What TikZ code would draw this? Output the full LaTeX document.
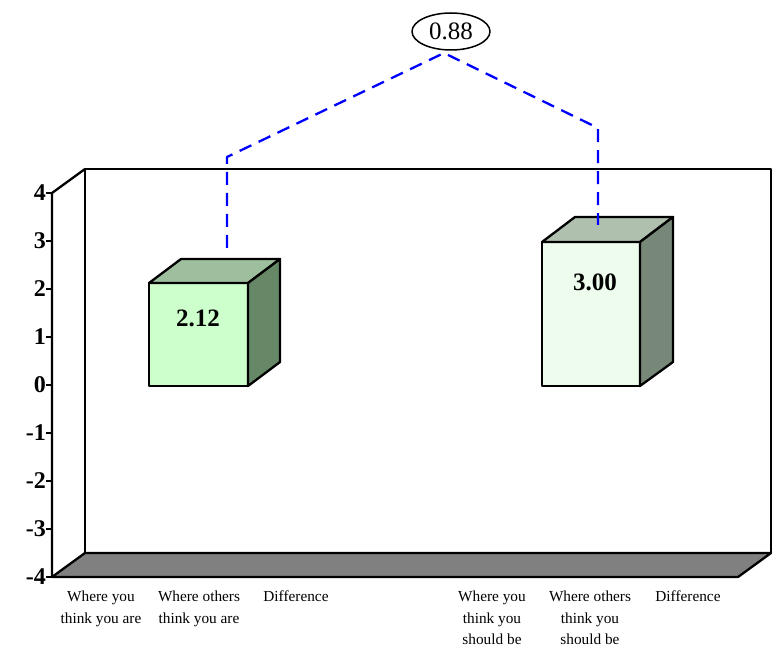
\documentclass[tikz,border=0pt]{standalone}
\usepackage{fontspec}
\setmainfont{Liberation Serif}
\usetikzlibrary{shapes.geometric}
\definecolor{floorgray}{HTML}{808080}
\definecolor{aface}{HTML}{CCFFCC}
\definecolor{atop}{HTML}{9DBF9D}
\definecolor{aside}{HTML}{668866}
\definecolor{bface}{HTML}{EEFCEE}
\definecolor{btop}{HTML}{AFC0AF}
\definecolor{bside}{HTML}{788878}
\begin{document}
\begin{tikzpicture}[x=1pt,y=-1pt,line join=round]
\tikzset{
  frame/.style={draw=black,line width=2.3pt},
  ticklab/.style={font=\fontsize{24}{24}\selectfont\bfseries,anchor=east,inner sep=0pt},
  barlab/.style={font=\fontsize{25}{25}\selectfont\bfseries,inner sep=0pt},
  catlab/.style={font=\fontsize{15.3}{21.5}\selectfont,align=center,anchor=north,inner sep=0pt},
  dashline/.style={draw=blue,line width=2.3pt,dash pattern=on 13pt off 8pt},
  diffbox/.style={ellipse,draw=black,line width=1.5pt,minimum width=78pt,minimum height=37pt,inner sep=0pt,font=\fontsize{25}{25}\selectfont}
}
\useasboundingbox (0,0) rectangle (776,652);
% floor
\draw[frame,fill=floorgray] (52,577) -- (738,577) -- (771,553) -- (85,553) -- cycle;
% back wall
\draw[frame] (85,553) -- (85,169) -- (771,169) -- (771,553);
% left wall / axis
\draw[frame] (52,577) -- (52,193) -- (85,169);
\foreach \v in {-4,...,4}{
  \draw[frame,line width=1.6pt] (46,{385-48*\v}) -- (52,{385-48*\v});
  \node[ticklab] (t\v) at (46,{385-48*\v}) {\v};
}
% bar 1
\draw[frame,fill=aface] (149,283) rectangle (248,386);
\draw[frame,fill=atop] (149,283) -- (248,283) -- (280,259) -- (181,259) -- cycle;
\draw[frame,fill=aside] (248,283) -- (280,259) -- (280,362) -- (248,386) -- cycle;
\node[barlab] (v1) at (198,318) {2.12};
% bar 2
\draw[frame,fill=bface] (542,242) rectangle (640,386);
\draw[frame,fill=btop] (542,242) -- (640,242) -- (673,217) -- (575,217) -- cycle;
\draw[frame,fill=bside] (640,242) -- (673,217) -- (673,362) -- (640,386) -- cycle;
\node[barlab] (v2) at (595,282) {3.00};
% difference
\node[diffbox] (diff) at (451,31.5) {0.88};
\coordinate (apex) at (444,53);
\coordinate (l0) at (227,248);
\coordinate (l1) at (227,157);
\coordinate (r1) at (598,128);
\coordinate (r0) at (598,225);
\draw[dashline] (l0) -- (l1) -- (apex) -- (r1) -- (r0);
% categories
\node[catlab] (c1) at (101,591) {Where you\\think you are};
\node[catlab] (c2) at (199,591) {Where others\\think you are};
\node[catlab] (c3) at (296,591) {Difference};
\node[catlab] (c4) at (492,591) {Where you\\think you\\should be};
\node[catlab] (c5) at (590,591) {Where others\\think you\\should be};
\node[catlab] (c6) at (688,591) {Difference};
\end{tikzpicture}
\end{document}
